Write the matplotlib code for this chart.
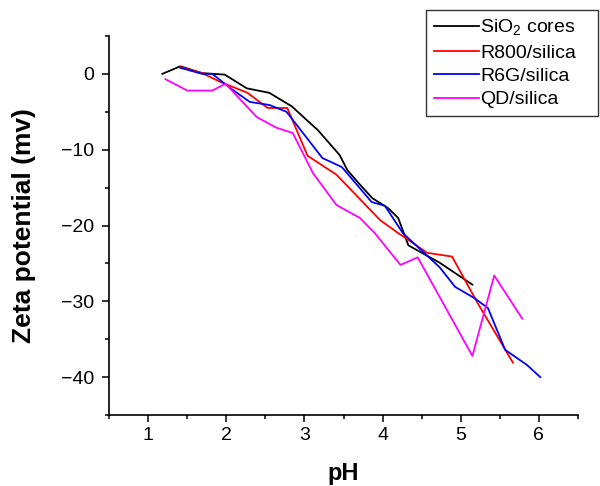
import matplotlib
matplotlib.use('Agg')
import matplotlib.pyplot as plt
from matplotlib.ticker import MultipleLocator

plt.rcParams['font.family'] = ['Liberation Sans', 'DejaVu Sans']
plt.rcParams['mathtext.fontset'] = 'custom'
plt.rcParams['mathtext.rm'] = 'Liberation Sans'

# SiO2 cores
ph_sio2 = [1.18, 1.41, 1.69, 1.98, 2.26, 2.55, 2.84, 3.03, 3.17, 3.45, 3.55, 3.71,
           3.87, 4.07, 4.20, 4.33, 4.38, 4.73, 5.15]
zp_sio2 = [0.0, 1.0, 0.1, -0.1, -1.9, -2.5, -4.3, -6.1, -7.4, -10.7, -12.7, -14.6,
           -16.4, -17.7, -19.0, -22.6, -22.9, -24.9, -27.8]

# R800/silica
ph_r800 = [1.41, 1.69, 1.91, 2.27, 2.53, 2.78, 3.04, 3.41, 3.97, 4.20, 4.33, 4.57,
           4.89, 5.21, 5.67]
zp_r800 = [0.9, 0.1, -1.0, -2.5, -4.5, -4.5, -10.8, -13.3, -19.3, -21.0, -21.9, -23.6,
           -24.1, -30.1, -38.1]

# R6G/silica
ph_r6g = [1.41, 1.69, 1.82, 2.04, 2.30, 2.55, 2.77, 3.23, 3.48, 3.86, 4.03, 4.26,
          4.73, 4.93, 5.18, 5.35, 5.57, 5.85, 6.02]
zp_r6g = [0.8, 0.0, 0.0, -1.8, -3.7, -4.1, -5.0, -11.1, -12.3, -16.9, -17.4, -21.0,
          -25.5, -28.1, -29.6, -30.9, -36.4, -38.4, -40.0]

# QD/silica
ph_qd = [1.22, 1.50, 1.82, 1.99, 2.39, 2.64, 2.85, 3.11, 3.41, 3.71, 3.90, 4.23,
         4.45, 5.15, 5.43, 5.79]
zp_qd = [-0.7, -2.2, -2.2, -1.3, -5.7, -7.1, -7.8, -13.1, -17.3, -19.0, -21.0, -25.2,
         -24.2, -37.2, -26.6, -32.3]

fig = plt.figure(figsize=(6, 4.86), dpi=100)
ax = fig.add_axes([0.182, 0.146, 0.781, 0.780])

lw = 1.3
ax.plot(ph_sio2, zp_sio2, color='black', lw=lw, label=r'SiO$_2$ cores')
ax.plot(ph_r800, zp_r800, color='#ff0000', lw=lw, label='R800/silica')
ax.plot(ph_r6g, zp_r6g, color='#0000ff', lw=lw, label='R6G/silica')
ax.plot(ph_qd, zp_qd, color='#ff00ff', lw=lw, label='QD/silica')

ax.set_xlim(0.5, 6.5)
ax.set_ylim(-45, 5)
ax.xaxis.set_major_locator(MultipleLocator(1))
ax.xaxis.set_minor_locator(MultipleLocator(0.5))
ax.yaxis.set_major_locator(MultipleLocator(10))
ax.yaxis.set_minor_locator(MultipleLocator(5))
ax.yaxis.set_major_formatter(plt.FuncFormatter(lambda v, p: f'{v:.0f}'.replace('-', '\u2212')))

for s in ['top', 'right']:
    ax.spines[s].set_visible(False)
for s in ['left', 'bottom']:
    ax.spines[s].set_linewidth(1.2)
ax.tick_params(which='major', direction='out', length=5, width=1.1, labelsize=14)
ax.tick_params(axis='y', which='major', pad=6)
ax.tick_params(which='minor', direction='out', length=3, width=1.1)

ax.set_xlabel('pH', fontsize=17, fontweight='bold')
ax.set_ylabel('Zeta potential (mv)', fontsize=19, fontweight='bold')
ax.yaxis.set_label_coords(-0.156, 0.5)
ax.xaxis.set_label_coords(0.5, -0.124)

leg = ax.legend(loc='upper left',
                bbox_to_anchor=(426 / 600, (486 - 117) / 486, 172 / 600, 107 / 486),
                bbox_transform=fig.transFigure, mode='expand', fontsize=14,
                frameon=True, fancybox=False, edgecolor='black', borderpad=0.4,
                labelspacing=0.3, handlelength=2.3, handletextpad=0.1,
                borderaxespad=0)
leg.get_frame().set_linewidth(1.0)

fig.savefig('out.png', dpi=100)
